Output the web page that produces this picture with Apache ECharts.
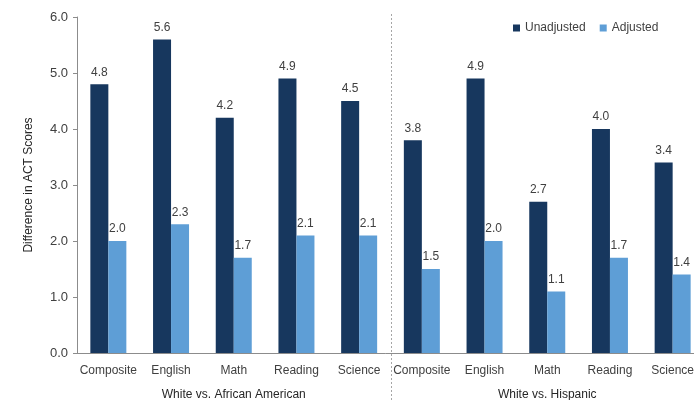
<!DOCTYPE html>
<html><head><meta charset="utf-8">
<script src="https://cdn.jsdelivr.net/npm/echarts@6/dist/echarts.min.js"></script>
<style>html,body{margin:0;padding:0;background:#fff}#c{width:694px;height:400px}</style>
</head><body><div id="c"></div>
<script>
const categories = ['Composite','English','Math','Reading','Science','Composite','English','Math','Reading','Science'];
const groups = ['White vs. African American','White vs. Hispanic'];
const unadjusted = [4.8, 5.6, 4.2, 4.9, 4.5, 3.8, 4.9, 2.7, 4.0, 3.4];
const adjusted = [2.0, 2.3, 1.7, 2.1, 2.1, 1.5, 2.0, 1.1, 1.7, 1.4];
const yTicks = [0, 1, 2, 3, 4, 5, 6];

const FONT = '"Liberation Sans", Arial, sans-serif';
const chart = echarts.init(document.getElementById('c'), null, {renderer: 'canvas'});
const lbl = {show: true, position: 'top', distance: 6, color: '#404040', fontSize: 12, fontFamily: FONT, formatter: p => p.value.toFixed(1)};
chart.setOption({
  animation: false,
  textStyle: {fontFamily: FONT},
  grid: {left: 77, top: 17, width: 627, height: 336, containLabel: false, outerBoundsMode: 'none'},
  legend: {
    left: 508, top: 17, itemWidth: 7, itemHeight: 7, itemGap: 14, icon: 'rect',
    textStyle: {color: '#404040', fontSize: 12, fontFamily: FONT},
    data: ['Unadjusted', 'Adjusted']
  },
  xAxis: [{
    type: 'category', data: categories,
    axisLine: {lineStyle: {color: '#8c8c8c'}}, axisTick: {show: false},
    axisLabel: {color: '#404040', fontSize: 12, margin: 12, fontFamily: FONT, interval: 0}
  }, {
    type: 'category', data: groups, position: 'bottom', offset: 24,
    axisLine: {show: false}, axisTick: {show: false},
    axisLabel: {color: '#262626', fontSize: 12, margin: 12, fontFamily: FONT, interval: 0}
  }],
  yAxis: {
    type: 'value', min: yTicks[0], max: yTicks[yTicks.length - 1], interval: 1,
    name: 'Difference in ACT Scores', nameLocation: 'middle', nameGap: 42,
    nameTextStyle: {color: '#262626', fontSize: 12, fontFamily: FONT},
    axisLine: {show: true, lineStyle: {color: '#8c8c8c'}},
    axisTick: {show: true, length: 4, lineStyle: {color: '#8c8c8c'}},
    splitLine: {show: false},
    axisLabel: {color: '#404040', fontSize: 13, margin: 9, fontFamily: FONT, formatter: v => v.toFixed(1)}
  },
  series: [
    {name: 'Unadjusted', type: 'bar', data: unadjusted, barWidth: 18, barGap: '0%', itemStyle: {color: '#17375e'}, label: lbl},
    {name: 'Adjusted', type: 'bar', data: adjusted, barWidth: 18, barGap: '0%', itemStyle: {color: '#5e9ed6'}, label: lbl}
  ]
});
// dotted divider between the two groups
const x4 = chart.convertToPixel({xAxisIndex: 0}, 4);
const x5 = chart.convertToPixel({xAxisIndex: 0}, 5);
const xd = Math.round((x4 + x5) / 2) + 0.5;
chart.setOption({
  graphic: [{
    type: 'line', shape: {x1: xd, y1: 14, x2: xd, y2: 400},
    style: {stroke: '#a6a6a6', lineWidth: 1, lineDash: [2, 2]}, silent: true
  }]
});
</script></body></html>
